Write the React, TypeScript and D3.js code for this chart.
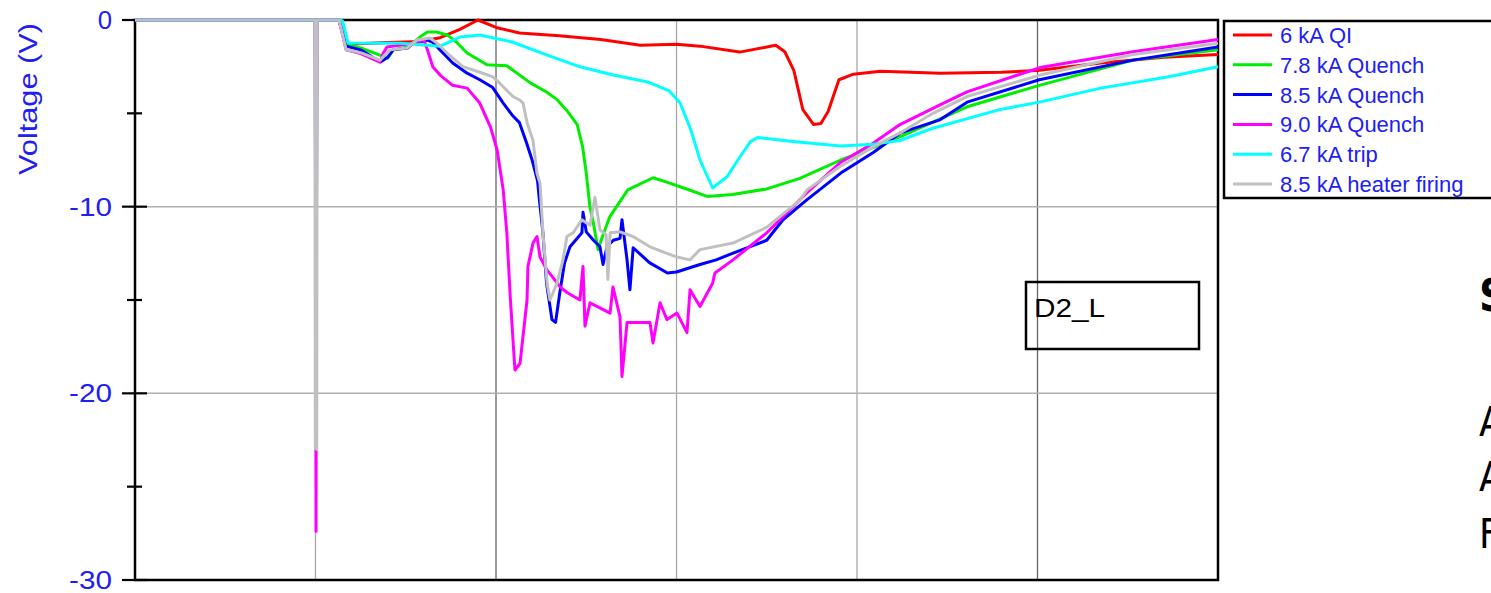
import React from 'react';
import * as d3 from 'd3';

// page size
const W = 1491;
const H = 593;
// plot frame
const margin = { top: 20, right: 273, bottom: 13, left: 135 };

// axis ticks
const xTicks = [0, 1, 2, 3, 4, 5, 6];
const yTicks = [0, -10, -20, -30];
const yMinorTicks = [-5, -15, -25];

// legend
const seriesNames = ['6 kA QI', '7.8 kA Quench', '8.5 kA Quench', '9.0 kA Quench', '6.7 kA trip', '8.5 kA heater firing'];
const seriesColors = ['#ff0000', '#00ee00', '#0000ff', '#ff00ff', '#00ffff', '#c0c0c0'];

// series values [time, voltage]
const qi6kA: [number, number][] = [
  [0, 0], [1.13, 0], [1.17, -1.3], [1.4, -1.2], [1.58, -1.15], [1.69, -0.95], [1.8, -0.5], [1.86, -0.2], [1.9, 0],
  [2.0, -0.4], [2.13, -0.7], [2.35, -0.85], [2.58, -1.05], [2.8, -1.35], [3.0, -1.3], [3.13, -1.4], [3.35, -1.72],
  [3.5, -1.45], [3.55, -1.35], [3.6, -1.7], [3.65, -2.7], [3.7, -4.8], [3.76, -5.6], [3.8, -5.55], [3.84, -4.9],
  [3.9, -3.2], [3.98, -2.9], [4.13, -2.75], [4.46, -2.85], [4.8, -2.8], [5.0, -2.7], [5.35, -2.3], [5.7, -2.0], [6.0, -1.85],
];

const quench78: [number, number][] = [
  [0, 0], [1.13, 0], [1.17, -1.3], [1.25, -1.5], [1.36, -1.9], [1.4, -2.04], [1.43, -1.6], [1.51, -1.45], [1.58, -0.9],
  [1.62, -0.64], [1.67, -0.64], [1.73, -0.8], [1.78, -1.18], [1.84, -1.77], [1.95, -2.4], [2.06, -2.45], [2.19, -3.37],
  [2.28, -3.86], [2.34, -4.28], [2.39, -4.82], [2.45, -5.6], [2.48, -6.8], [2.5, -8.2], [2.52, -10.0], [2.54, -10.9],
  [2.565, -12.3], [2.59, -11.6], [2.63, -10.55], [2.73, -9.1], [2.87, -8.45], [2.95, -8.7], [3.04, -9.0], [3.17, -9.45],
  [3.31, -9.35], [3.5, -9.05], [3.68, -8.5], [3.91, -7.5], [4.02, -7.1], [4.24, -6.25], [4.61, -4.65], [5.01, -3.5],
  [5.53, -2.15], [6.0, -1.6],
];

const quench85: [number, number][] = [
  [0, 0], [0.998, 0], [1.003, -21.5], [1.008, 0], [1.13, 0], [1.17, -1.4], [1.25, -1.6], [1.36, -2.25], [1.4, -2.0],
  [1.43, -1.6], [1.51, -1.5], [1.54, -1.25], [1.62, -1.07], [1.65, -1.2], [1.69, -1.6], [1.76, -2.3], [1.84, -2.85],
  [1.91, -3.2], [1.98, -3.6], [2.04, -4.45], [2.09, -5.1], [2.13, -5.5], [2.17, -6.6], [2.2, -7.5], [2.23, -8.6],
  [2.24, -9.6], [2.26, -11.4], [2.28, -14.1], [2.31, -16.05], [2.33, -16.2], [2.355, -14.5], [2.38, -13.0],
  [2.41, -12.15], [2.476, -11.4], [2.482, -10.3], [2.5, -11.35], [2.54, -11.8], [2.576, -12.15], [2.593, -13.1],
  [2.615, -12.15], [2.65, -11.8], [2.687, -11.7], [2.698, -10.7], [2.726, -12.85], [2.742, -14.45], [2.76, -12.2],
  [2.85, -13.0], [2.95, -13.55], [3.0, -13.5], [3.13, -13.1], [3.22, -12.85], [3.31, -12.5], [3.5, -11.8],
  [3.59, -10.7], [3.72, -9.65], [3.91, -8.2], [4.09, -7.1], [4.24, -6.05], [4.46, -5.35], [4.61, -4.4], [5.01, -3.2],
  [5.53, -2.15], [6.0, -1.45],
];

const quench90: [number, number][] = [
  [0, 0], [0.999, 0], [1.003, -27.4], [1.007, 0], [1.13, 0], [1.17, -1.6], [1.25, -1.8], [1.357, -2.25], [1.374, -1.8],
  [1.396, -1.45], [1.54, -1.25], [1.6, -1.07], [1.62, -1.6], [1.65, -2.5], [1.69, -2.95], [1.76, -3.5], [1.84, -3.65],
  [1.91, -4.45], [1.97, -5.75], [2.006, -6.95], [2.04, -9.1], [2.06, -11.4], [2.08, -15.0], [2.105, -18.75],
  [2.133, -18.4], [2.172, -15.0], [2.177, -13.2], [2.205, -11.95], [2.227, -11.6], [2.244, -12.7], [2.283, -13.4],
  [2.316, -13.8], [2.355, -14.3], [2.393, -14.6], [2.465, -15.0], [2.482, -13.2], [2.493, -16.4], [2.521, -15.15],
  [2.632, -15.7], [2.648, -14.3], [2.687, -15.9], [2.698, -19.1], [2.726, -16.2], [2.853, -16.2], [2.87, -17.3],
  [2.909, -15.15], [2.947, -16.05], [3.003, -15.7], [3.058, -16.75], [3.075, -14.45], [3.13, -15.35], [3.2, -14.1],
  [3.213, -13.55], [3.313, -12.85], [3.5, -11.4], [3.573, -10.7], [3.723, -9.25], [3.906, -7.65], [4.089, -6.6],
  [4.238, -5.6], [4.46, -4.55], [4.609, -3.85], [5.014, -2.55], [5.529, -1.7], [6.0, -1.05],
];

const trip67: [number, number][] = [
  [0, 0], [1.13, 0], [1.15, -0.05], [1.18, -1.23], [1.47, -1.25], [1.69, -1.4], [1.73, -1.23], [1.8, -0.91],
  [1.91, -0.8], [2.09, -1.18], [2.28, -1.87], [2.47, -2.52], [2.65, -2.95], [2.84, -3.32], [2.96, -3.8], [3.02, -4.45],
  [3.08, -5.9], [3.13, -7.5], [3.2, -9.0], [3.28, -8.4], [3.34, -7.5], [3.41, -6.5], [3.45, -6.3], [3.63, -6.5],
  [3.91, -6.75], [4.09, -6.65], [4.24, -6.45], [4.42, -5.8], [4.79, -4.8], [5.01, -4.4], [5.35, -3.65], [5.72, -3.05],
  [6.0, -2.5],
];

const heater85: [number, number][] = [
  [0, 0], [0.997, 0], [0.999, -22.9], [1.007, -23.0], [1.009, 0], [1.13, 0], [1.17, -1.6], [1.25, -1.75], [1.357, -2.15], [1.413, -1.6],
  [1.507, -1.5], [1.562, -1.07], [1.634, -0.96], [1.673, -1.23], [1.729, -1.77], [1.817, -2.5], [1.911, -2.8],
  [1.983, -3.05], [2.022, -3.4], [2.094, -4.1], [2.133, -4.3], [2.15, -4.45], [2.172, -5.5], [2.205, -6.45],
  [2.227, -8.2], [2.244, -8.75], [2.26, -11.4], [2.283, -14.1], [2.299, -15.0], [2.338, -14.1], [2.371, -12.85],
  [2.393, -11.6], [2.427, -11.4], [2.476, -10.7], [2.521, -11.0], [2.548, -9.5], [2.576, -11.25], [2.61, -11.5],
  [2.62, -13.9], [2.632, -11.4], [2.687, -11.35], [2.759, -11.6], [2.853, -12.15], [2.947, -12.5], [3.003, -12.7],
  [3.075, -12.85], [3.13, -12.3], [3.313, -11.95], [3.501, -11.1], [3.684, -9.65], [3.723, -9.1], [3.906, -7.85],
  [4.089, -6.8], [4.238, -6.05], [4.421, -5.0], [4.609, -4.1], [5.014, -2.95], [5.529, -1.85], [6.0, -1.25],
];

const allSeries = [qi6kA, quench78, quench85, quench90, trip67, heater85];

// cut-off slide text on the right edge
const sideText = [
  { t: 'S', b: true, y: 311 },
  { t: 'A', b: false, y: 436 },
  { t: 'A', b: false, y: 491 },
  { t: 'F', b: false, y: 548 },
];

const App = () => {
  const x = d3.scaleLinear().domain([0, 6]).range([margin.left, W - margin.right]);
  const y = d3.scaleLinear().domain([-30, 0]).range([H - margin.bottom, margin.top]);
  const line = d3.line<[number, number]>().x(d => x(d[0])).y(d => y(d[1]));

  const blue = '#2020f0';
  const font = 'Arial, "Liberation Sans", sans-serif';

  return (
    <svg width={W} height={H} style={{ position: 'absolute', left: 0, top: 0, background: '#fff' }} fontFamily={font}>
      {/* grid */}
      {xTicks.slice(1, -1).map(t => (
        <line key={'gx' + t} x1={x(t)} x2={x(t)} y1={y(0)} y2={y(-30)} stroke={t === 2 || t === 5 ? '#666' : '#a8a8a8'} strokeWidth={1.3} />
      ))}
      {yTicks.slice(1, -1).map(t => (
        <line key={'gy' + t} x1={x(0)} x2={x(6)} y1={y(t)} y2={y(t)} stroke="#b0b0b0" strokeWidth={1.5} />
      ))}

      {/* frame */}
      <rect x={x(0)} y={y(0)} width={x(6) - x(0)} height={y(-30) - y(0)} fill="none" stroke="#000" strokeWidth={2.5} />

      {/* y axis ticks and labels */}
      {yTicks.map(t => (
        <g key={'yt' + t}>
          <line x1={x(0) - 13} x2={x(0) + 12} y1={y(t)} y2={y(t)} stroke="#000" strokeWidth={2.2} />
          <text x={112} y={y(t)} dy="0.36em" textAnchor="end" fontSize={25} fill={blue}
            textLength={String(t).length * 14.3} lengthAdjust="spacingAndGlyphs">{t}</text>
        </g>
      ))}
      {yMinorTicks.map(t => (
        <line key={'ym' + t} x1={x(0) - 8} x2={x(0) + 7} y1={y(t)} y2={y(t)} stroke="#000" strokeWidth={2.2} />
      ))}
      <text transform={`translate(37,99) rotate(-90)`} textAnchor="middle" fontSize={25} fill={blue}
        textLength={152} lengthAdjust="spacingAndGlyphs">Voltage (V)</text>

      {/* series */}
      {allSeries.map((s, i) => (
        <path key={'s' + i} d={line(s) || ''} fill="none" stroke={seriesColors[i]} strokeWidth={3} strokeLinejoin="round" />
      ))}

      {/* D2_L label */}
      <rect x={1026} y={282} width={173} height={67} fill="none" stroke="#000" strokeWidth={2.5} />
      <text x={1034} y={317} fontSize={26} fill="#000" textLength={71} lengthAdjust="spacingAndGlyphs">D2_L</text>

      {/* legend */}
      <rect x={1224} y={21} width={300} height={177} fill="#fff" stroke="#000" strokeWidth={2.5} />
      {seriesNames.map((n, i) => (
        <g key={'lg' + i} transform={`translate(0,${35 + i * 29.8})`}>
          <line x1={1233} x2={1272} y1={0} y2={0} stroke={seriesColors[i]} strokeWidth={3} />
          <text x={1280} y={0} dy="0.36em" fontSize={22} fill={blue}>{n}</text>
        </g>
      ))}

      {/* slide text cut by the page edge */}
      {sideText.map((s, i) => (
        <text key={'st' + i} x={1479} y={s.y} fontSize={s.b ? 44 : 40} fontWeight={s.b ? 'bold' : 'normal'} fill="#000"
          fontFamily='"Liberation Sans Narrow", "DejaVu Sans Condensed", sans-serif'>{s.t}</text>
      ))}
    </svg>
  );
};

export default App;
